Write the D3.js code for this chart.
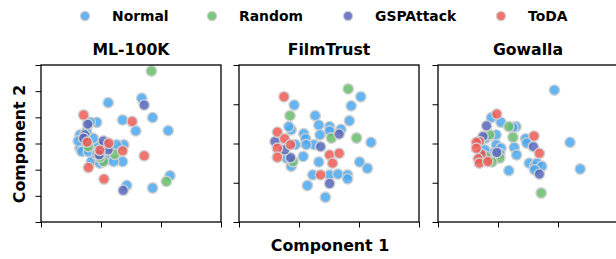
<!DOCTYPE html>
<html>
<head>
<meta charset="utf-8">
<script src="https://cdn.jsdelivr.net/npm/d3@7"></script>
<style>
  body { margin: 0; background: #fff; }
  text { font-family: "DejaVu Sans", sans-serif; font-weight: bold; }
</style>
</head>
<body>
<svg id="chart" width="616" height="259"></svg>
<script>
// groups and their colours
const groups = ["Normal", "Random", "GSPAttack", "ToDA"];
const colors = ["#4aa8f0", "#66bd6a", "#5865bd", "#ee5a55"];
const datasets = ["ML-100K", "FilmTrust", "Gowalla"];

// 2D embedding points per dataset, [x, y] in component units
const mlNormal = [[1.12,4.56],[1.68,4.73],[1.86,3.99],[1.36,3.90],[1.58,3.48],[2.12,3.49],[0.93,3.81],[0.82,3.81],
  [1.38,2.95],[1.36,2.31],[1.43,1.40],[1.86,1.30],[2.15,1.77],[0.65,3.33],[0.65,2.82],[0.68,2.69],[0.84,2.31],
  [0.98,2.25],[1.15,2.88],[1.26,2.95],[0.96,2.95],[0.87,3.20],[0.71,3.07],[0.79,2.69],[1.09,2.38],[0.62,3.10],
  [0.76,3.46],[0.93,2.57],[1.21,2.31]];
const mlRandom = [[1.84,5.77],[2.09,1.55],[0.79,2.88],[1.04,2.31],[1.23,2.59],[0.98,2.47]];
const mlGsp = [[1.72,4.47],[0.78,3.74],[0.73,3.33],[1.04,3.10],[1.12,2.76],[1.37,1.21],[0.97,2.57],[0.71,3.20]];
const mlToda = [[0.71,4.09],[1.52,3.84],[0.77,3.05],[0.98,2.74],[1.13,3.01],[1.36,2.72],[1.72,2.53],[0.79,2.08],[1.05,1.64]];

const ftNormal = [[2.03,3.19],[0.92,2.98],[1.87,2.96],[1.84,2.58],[1.27,2.71],[1.33,2.47],[1.08,2.25],[1.11,2.12],
  [1.51,2.43],[1.51,2.32],[1.70,2.36],[1.35,2.22],[1.25,1.97],[1.12,1.97],[0.94,1.97],[1.07,1.67],[1.33,1.53],
  [2.01,1.53],[2.14,1.37],[1.23,1.20],[1.51,1.20],[1.65,1.22],[1.81,1.20],[1.81,1.10],[1.14,0.93],[1.44,0.63],
  [2.20,2.03],[0.87,2.35],[0.87,1.42],[0.83,2.43],[0.79,1.63]];
const ftRandom = [[1.82,3.39],[0.85,2.71],[1.54,2.14],[1.96,2.14],[0.90,1.54]];
const ftGsp = [[1.67,2.24],[1.36,1.92],[1.51,0.98],[0.86,1.64],[0.60,2.05],[0.76,1.84]];
const ftToda = [[0.75,3.19],[0.64,2.29],[0.76,2.12],[0.86,1.97],[0.64,1.88],[0.64,1.65],[1.51,1.71],[1.67,1.75],[1.56,1.50],[1.36,1.20]];

const gwNormal = [[1.94,3.36],[2.20,2.03],[2.37,1.35],[1.18,1.31],[0.89,2.66],[1.05,2.54],[1.30,2.43],[1.25,2.41],
  [0.97,2.22],[0.97,1.97],[1.05,1.88],[1.03,1.75],[0.89,1.75],[1.27,1.90],[1.31,1.71],[1.46,2.12],[1.48,2.01],
  [1.52,1.50],[1.61,1.42],[1.65,1.50],[1.73,1.42],[1.61,1.33],[0.80,2.14],[0.69,2.05],[0.78,1.84]];
const gwRandom = [[1.18,2.43],[1.25,2.16],[1.72,0.74],[0.86,2.22],[1.03,1.63],[0.90,1.53],[0.80,1.67]];
const gwGsp = [[0.81,2.45],[0.98,1.77],[1.59,1.92],[1.69,1.22],[0.75,2.18],[0.72,1.71]];
const gwToda = [[0.98,2.75],[1.60,2.19],[1.69,1.75],[0.69,2.05],[0.64,2.03],[0.72,1.73],[0.67,1.61],[0.69,1.50],[0.83,1.54],[0.64,1.88]];

const panelData = [
  [mlNormal, mlRandom, mlGsp, mlToda],
  [ftNormal, ftRandom, ftGsp, ftToda],
  [gwNormal, gwRandom, gwGsp, gwToda]
];
const xTicks = [0, 1, 2, 3];
const yTicks = [[0, 1, 2, 3, 4, 5, 6], [0, 1, 2, 3, 4], [0, 1, 2, 3, 4]];

const svg = d3.select("#chart");
const panelLeft = [41, 239, 438];
const pw = 180, plotTop = 65, plotBottom = 222;

datasets.forEach((name, i) => {
  const g = svg.append("g").attr("transform", `translate(${panelLeft[i]},0)`);
  const x = d3.scaleLinear().domain([0, 3]).range([0, pw]);
  const yt = yTicks[i];
  const y = d3.scaleLinear().domain([yt[0], yt[yt.length - 1]]).range([plotBottom, plotTop]);

  groups.forEach((grp, k) => {
    g.append("g").selectAll("circle")
      .data(panelData[i][k])
      .enter().append("circle")
        .attr("cx", d => x(d[0]))
        .attr("cy", d => y(d[1]))
        .attr("r", 5.2)
        .attr("fill", colors[k])
        .attr("fill-opacity", 0.85)
        .attr("stroke", "#d0d0d0")
        .attr("stroke-width", 1.4);
  });

  g.append("rect")
    .attr("x", 0).attr("y", plotTop)
    .attr("width", pw).attr("height", plotBottom - plotTop)
    .attr("fill", "none").attr("stroke", "#000").attr("stroke-width", 1.3);

  const xAxis = g.append("g").attr("transform", `translate(0,${plotBottom})`)
    .call(d3.axisBottom(x).tickValues(xTicks).tickSize(5.5).tickFormat(""));
  const yAxis = g.append("g")
    .call(d3.axisLeft(y).tickValues(yt).tickSize(5.5).tickFormat(""));
  [xAxis, yAxis].forEach(a => {
    a.select(".domain").remove();
    a.selectAll("line").attr("stroke", "#000").attr("stroke-width", 1);
  });

  g.append("text")
    .attr("x", pw / 2).attr("y", 55)
    .attr("text-anchor", "middle")
    .attr("font-size", 15.7)
    .text(name);
});

svg.append("text")
  .attr("x", 330).attr("y", 250.5)
  .attr("text-anchor", "middle")
  .attr("font-size", 15.8)
  .text("Component 1");

svg.append("text")
  .attr("transform", "translate(25,144) rotate(-90)")
  .attr("text-anchor", "middle")
  .attr("font-size", 15.8)
  .text("Component 2");

// legend
const legendX = [85, 212, 348, 501];
groups.forEach((grp, k) => {
  svg.append("circle")
    .attr("cx", legendX[k]).attr("cy", 16).attr("r", 4.6)
    .attr("fill", colors[k]).attr("fill-opacity", 0.85)
    .attr("stroke", "#d0d0d0").attr("stroke-width", 1.3);
  svg.append("text")
    .attr("x", legendX[k] + 27).attr("y", 21)
    .attr("font-size", 13.9)
    .text(grp);
});
</script>
</body>
</html>
